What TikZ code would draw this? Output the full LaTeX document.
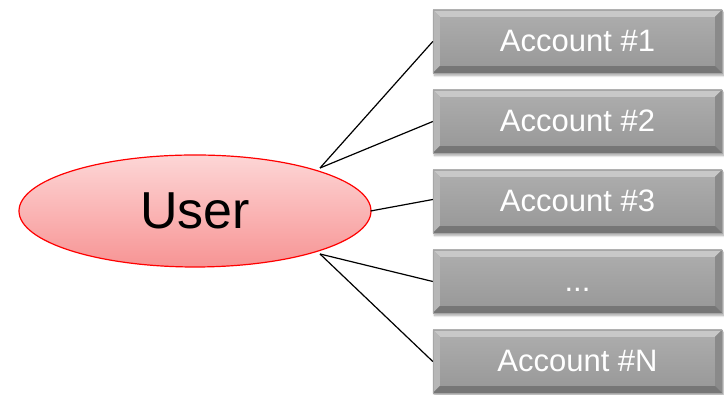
\documentclass[tikz,border=0pt]{standalone}
\usepackage{fontspec}
\setmainfont{Liberation Sans}
\usetikzlibrary{shapes.geometric,shadows.blur,calc}
\definecolor{facetop}{HTML}{AEAEAE}
\definecolor{facebot}{HTML}{979797}
\definecolor{bvtop}{HTML}{C8C8C8}
\definecolor{bvleft}{HTML}{B6B6B6}
\definecolor{bvright}{HTML}{8A8A8A}
\definecolor{bvbot}{HTML}{767676}
\definecolor{elltop}{HTML}{FDD6D6}
\definecolor{ellbot}{HTML}{F79494}
\tikzset{
  acct/.style={rectangle, minimum width=289pt, minimum height=63pt, inner sep=0pt,
    top color=facetop, bottom color=facebot, draw=gray!70, line width=0.4pt,
    blur shadow={shadow xshift=1.5pt, shadow yshift=-2.5pt, shadow blur steps=6, shadow opacity=35}},
  accttext/.style={text=white, font=\fontsize{31}{34}\selectfont, anchor=base, inner sep=0pt},
  usernode/.style={ellipse, minimum width=352pt, minimum height=112pt, inner sep=0pt,
    top color=elltop, bottom color=ellbot, draw=red, line width=1.2pt,
    font=\fontsize{52}{56}\selectfont},
  link/.style={draw=black, line width=1.2pt}
}
\begin{document}
\begin{tikzpicture}[x=1pt,y=1pt]
\useasboundingbox (0,0) rectangle (724,395);
\node[usernode] (u) at (195,184) {User};
\node[acct] (a1) at (577.5,353.5) {};
\node[acct] (a2) at (577.5,273.5) {};
\node[acct] (a3) at (577.5,193.5) {};
\node[acct] (a4) at (577.5,113.5) {};
\node[acct] (a5) at (577.5,33.5) {};
\foreach \b in {a1,a2,a3,a4,a5}{
  \fill[bvtop] (\b.north west) -- (\b.north east) -- ($(\b.north east)+(-7,-7)$) -- ($(\b.north west)+(7,-7)$) -- cycle;
  \fill[bvleft] (\b.north west) -- ($(\b.north west)+(7,-7)$) -- ($(\b.south west)+(7,7)$) -- (\b.south west) -- cycle;
  \fill[bvright] (\b.north east) -- ($(\b.north east)+(-7,-7)$) -- ($(\b.south east)+(-7,7)$) -- (\b.south east) -- cycle;
  \fill[bvbot] (\b.south west) -- ($(\b.south west)+(7,7)$) -- ($(\b.south east)+(-7,7)$) -- (\b.south east) -- cycle;
  \draw[gray!70, line width=0.4pt] (\b.north west) rectangle (\b.south east);
}
\node[accttext] (t1) at ($(a1.center)+(0,-10.5)$) {Account \#1};
\node[accttext] (t2) at ($(a2.center)+(0,-10.5)$) {Account \#2};
\node[accttext] (t3) at ($(a3.center)+(0,-10.5)$) {Account \#3};
\node[accttext] (t4) at ($(a4.center)+(0,-10.5)$) {...};
\node[accttext] (t5) at ($(a5.center)+(0,-10.5)$) {Account \#N};
\coordinate (uu) at ($(u.center)+(125,43)$);
\coordinate (ul) at ($(u.center)+(125,-43)$);
\coordinate (ue) at ($(u.east)+(-1,0)$);
\draw[link] (uu) -- (a1.west);
\draw[link] (uu) -- (a2.west);
\draw[link] (ue) -- ($(a3.west)+(0,2)$);
\draw[link] (ul) -- (a4.west);
\draw[link] (ul) -- (a5.west);
\end{tikzpicture}
\end{document}
